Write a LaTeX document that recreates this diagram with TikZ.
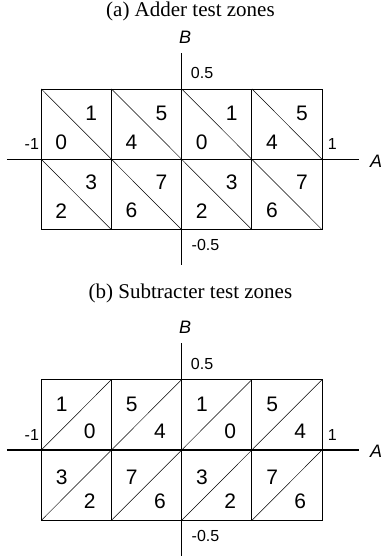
\documentclass[tikz,border=0pt]{standalone}
\usepackage{fontspec}
\setmainfont{Liberation Serif}
\setsansfont{Liberation Sans}
\begin{document}
\begin{tikzpicture}[x=70.2pt,y=70.4pt,
  digit/.style={font=\sffamily\fontsize{21}{21}\selectfont,inner sep=0pt},
  tickl/.style={font=\sffamily\fontsize{16}{16}\selectfont,inner sep=0pt},
  axl/.style={font=\sffamily\itshape\fontsize{18}{18}\selectfont,inner sep=0pt,anchor=base},
  ttl/.style={font=\fontsize{21}{21}\selectfont,inner sep=0pt,anchor=base},
  axis/.style={line width=1.6pt},
  cell/.style={line width=0.8pt},
  diag/.style={line width=0.5pt}]
\useasboundingbox (-2.588,2.263) rectangle (2.853,-5.635);
% (a) adder zones
\node[ttl] (ta) at (0.125,2.035) {(a) Adder test zones};
\foreach \t/\yu/\yl/\p/\q in {1/0.652/0.247/1/0,0/-0.33/-0.73/3/2}
  \foreach \c/\k in {-2/0,-1/4,0/0,1/4} {
    \draw[cell] (\c,\t) rectangle ++(1,-1);
    \draw[diag] (\c,\t) -- ++(1,-1);
    \node[digit] (a\p\c) at (\c+0.712,\yu) {\the\numexpr\p+\k\relax};
    \node[digit] (a\q\c) at (\c+0.285,\yl) {\the\numexpr\q+\k\relax};
  }
\coordinate (aw) at (-2.49,0);
\coordinate (ae) at (2.53,0);
\coordinate (an) at (0,1.506);
\coordinate (as) at (0,-1.5);
\draw[axis] (aw) -- (ae);
\draw[axis] (an) -- (as);
\node[axl] (Ba) at (0.05,1.65) {B};
\node[axl] (Aa) at (2.77,-0.11) {A};
\node[tickl,anchor=base west] (pa) at (0.13,1.15) {0.5};
\node[tickl,anchor=base west] (ma) at (0.14,-1.30) {-0.5};
\node[tickl,anchor=base east] (la) at (-2.03,0.14) {-1};
\node[tickl,anchor=base west] (ra) at (2.08,0.14) {1};
% (b) subtracter zones
\begin{scope}[shift={(0,-4.129)}]
\node[ttl] (tb) at (0.125,2.145) {(b) Subtracter test zones};
\foreach \t/\yu/\yl/\p/\q in {1/0.645/0.26/1/0,0/-0.384/-0.734/3/2}
  \foreach \c/\k in {-2/0,-1/4,0/0,1/4} {
    \draw[cell] (\c,\t) rectangle ++(1,-1);
    \draw[diag] (\c,\t-1) -- ++(1,1);
    \node[digit] (b\p\c) at (\c+0.29,\yu) {\the\numexpr\p+\k\relax};
    \node[digit] (b\q\c) at (\c+0.69,\yl) {\the\numexpr\q+\k\relax};
  }
\coordinate (bw) at (-2.49,0);
\coordinate (be) at (2.53,0);
\coordinate (bn) at (0,1.516);
\coordinate (bs) at (0,-1.51);
\draw[axis] (bw) -- (be);
\draw[axis] (bn) -- (bs);
\node[axl] (Bb) at (0.05,1.65) {B};
\node[axl] (Ab) at (2.77,-0.11) {A};
\node[tickl,anchor=base west] (pb) at (0.13,1.15) {0.5};
\node[tickl,anchor=base west] (mb) at (0.14,-1.30) {-0.5};
\node[tickl,anchor=base east] (lb) at (-2.03,0.14) {-1};
\node[tickl,anchor=base west] (rb) at (2.08,0.14) {1};
\end{scope}
\end{tikzpicture}
\end{document}
